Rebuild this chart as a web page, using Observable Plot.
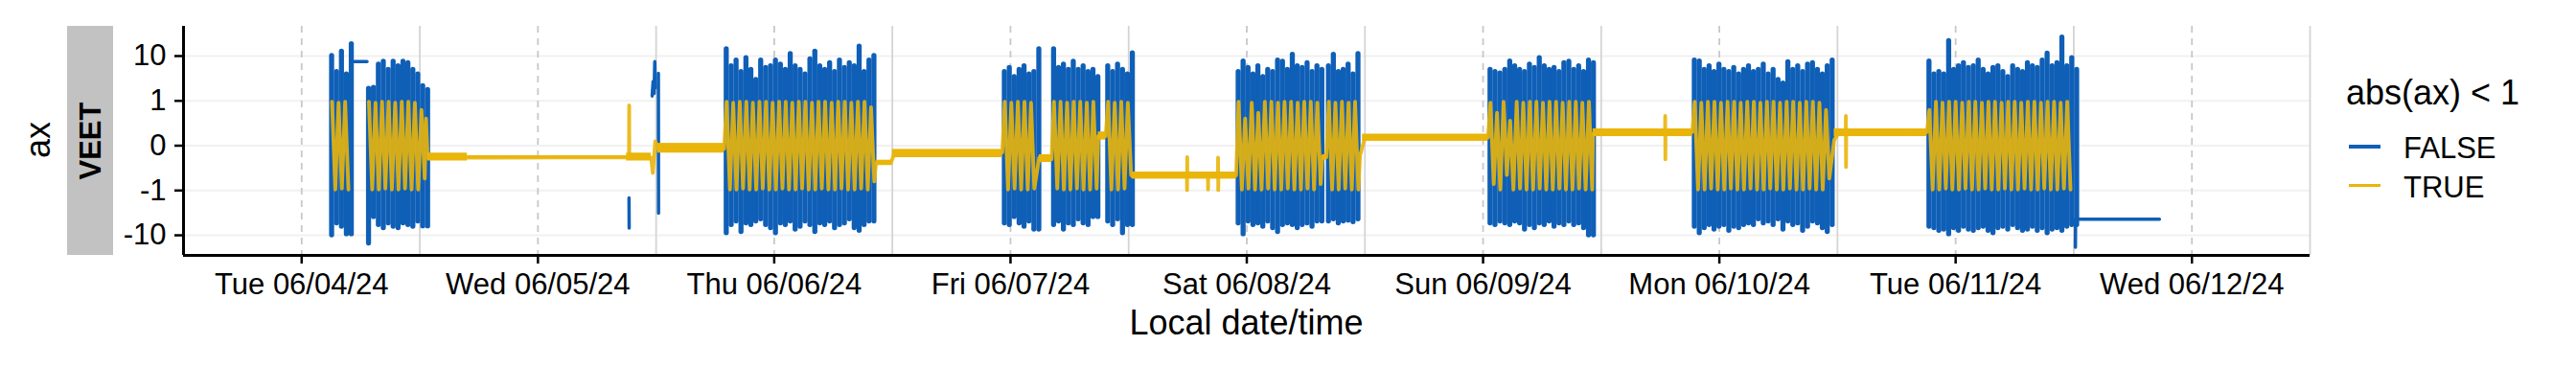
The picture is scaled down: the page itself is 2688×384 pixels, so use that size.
<!DOCTYPE html>
<html><head><meta charset="utf-8">
<script src="https://cdn.jsdelivr.net/npm/d3@7"></script>
<script src="https://cdn.jsdelivr.net/npm/@observablehq/plot@0.6"></script>
<style>
html,body{margin:0;padding:0;background:#fff;}
#wrap{position:relative;width:2688px;height:384px;overflow:hidden;font-family:"Liberation Sans",Arial,sans-serif;color:#000;}
#wrap svg{position:absolute;left:0;top:0;}
.abs{position:absolute;white-space:nowrap;line-height:1;}
</style></head><body><div id="wrap"></div>
<script>
// ---------- data ----------
const facetLabel = "VEET";
const yLabel = "ax";
const xLabel = "Local date/time";
const legendTitle = "abs(ax) < 1";
const legendLabels = ["FALSE", "TRUE"];
const colors = ["#0F5FB7", "#E9B50B"];

const xDomain = ["2024-06-03T12:00", "2024-06-12T12:00"];
const xTickDays = ["2024-06-04T00:00","2024-06-05T00:00","2024-06-06T00:00","2024-06-07T00:00","2024-06-08T00:00","2024-06-09T00:00","2024-06-10T00:00","2024-06-11T00:00","2024-06-12T00:00"];
const xNoonLines = ["2024-06-03T12:00","2024-06-04T12:00","2024-06-05T12:00","2024-06-06T12:00","2024-06-07T12:00","2024-06-08T12:00","2024-06-09T12:00","2024-06-10T12:00","2024-06-11T12:00","2024-06-12T12:00"];
const yTicks = [-10, -1, 0, 1, 10];
const yDomain = [-27, 43.3];

// active periods: start time, FALSE envelope per 30-min interval (max / min)
const blockStart = ["2024-06-04T02:55","2024-06-04T06:40","2024-06-05T19:00","2024-06-06T23:15","2024-06-07T04:15","2024-06-07T09:45","2024-06-07T23:00","2024-06-08T08:10","2024-06-09T00:35","2024-06-09T21:20","2024-06-10T21:10"];
const yellowRun = ["y0","y1","y1","y1","y1","y1","y1","y1","y1","y1","y1"];
const blueHi = [
  [10, 4.5, 12.5, 4, 18],
  [1.9, 2, 6.5, 7.5, 5, 7.5, 6, 7.5, 7, 5, 4, 2.2, 1.8],
  [14, 6, 8, 4.5, 9, 5, 3, 8, 5.5, 6, 8, 6.5, 5, 11, 6, 5, 4, 8.5, 12.5, 6, 5, 7, 4.5, 8, 5.5, 7, 6, 16, 4.5, 8, 10],
  [4.5, 5.5, 3.5, 5, 6, 4, 4.5, 14],
  [14, 5.5, 6.5, 5, 7.5, 5, 6, 4.5, 5, 3.5],
  [6, 4.5, 6.5, 5, 4, 11.5],
  [4.5, 7.6, 5.5, 4, 6, 3.5, 5, 4.5, 8, 7.5, 5, 10.7, 6, 5.5, 7, 4.5, 6, 5],
  [6, 10.7, 4.5, 5, 6.5, 4, 11],
  [5, 4.5, 4.2, 5, 7.6, 6, 5, 4.5, 6.5, 5.5, 9, 6, 5, 5.5, 4.5, 7, 7.5, 5, 6, 4.5, 8, 7],
  [8, 7.6, 5, 6, 4.5, 6.5, 5, 4.5, 5.5, 4, 5, 6, 4.5, 5, 6.5, 4, 5, 3, 2.5, 7.4, 5, 6, 4.5, 6.5, 7, 5, 4, 6, 8],
  [7.6, 4, 4.5, 4, 21, 5, 6, 7, 5.5, 6, 8, 5, 4, 5.5, 6, 4.5, 3.5, 6, 5, 4.5, 7, 6, 5.5, 8, 11.3, 6, 7, 25, 6, 9, 5]
];
const blueLo = [
  [-10, -5.5, -6.5, -9.5],
  [-15, -4, -6, -7, -5.5, -6.5, -7, -5.5, -6, -6.5, -5, -6.4],
  [-9, -6, -5, -8.5, -5.5, -6, -5, -4.5, -6, -7, -9, -5.5, -6, -5, -7.5, -6.5, -5, -6, -8.5, -5.5, -6, -5, -7, -6, -5.5, -4.5, -7, -8, -6, -5],
  [-5.5, -6, -4, -5.5, -6.5, -5, -7.5],
  [-6, -5, -7.5, -5.5, -6, -4.5, -5.5, -6, -4],
  [-5, -6, -4.5, -9, -6],
  [-5.5, -9.5, -5, -6, -5.5, -6.5, -5, -7, -8.5, -6, -5.5, -6, -7, -6, -5.5, -6.5, -5],
  [-5, -4.5, -5.5, -5, -4.8, -5.2, -4.5],
  [-5.5, -6, -5, -5.5, -6, -5, -5.5, -7.5, -6, -7, -5.5, -6, -5, -6.5, -5.5, -6, -5, -6, -5.5, -7, -10],
  [-6.5, -9, -7, -6, -7.5, -6.5, -6, -8, -6.5, -7, -6, -5.5, -6, -4.5, -5.5, -5, -6, -4.5, -7.5, -5, -6, -5.5, -8, -6.5, -5, -5.5, -7, -8.5, -6],
  [-6.5, -7, -8, -7.5, -9.5, -7, -8, -6.5, -7.5, -8, -7, -6.5, -8, -9, -7, -6.5, -7.5, -6, -7, -8, -7.5, -6.5, -8, -7, -9, -7.5, -7, -8, -6.5, -6]
];
// TRUE readings inside active periods, sampled every 20 min
const yellowHi = [
  [.95, .9, .95],
  [.95, .9, .95, .95, .9, .95, .95, .9, .6],
  [.95, .9, .95, .95, .9, .95, .95, .9, .95, .95, .9, .95, .95, .9, .95, .95, .9, .95, .95, .9, .95, .95, .7],
  [.95, .9, .95, .95, .9],
  [.95, .95, .9, .95, .95, .9, .95],
  [.95, .9, .95, .9],
  [.95, .35, .9, .5, .95, .95, .9, .95, .95, .9, .95, .95, .9],
  [.95, .9, .95, .9, .95],
  [.9, .5, .95, .3, .95, .9, .95, .95, .9, .95, .95, .9, .95, .95, .9, .95],
  [.95, .9, .95, .95, .9, .95, .95, .9, .95, .95, .9, .95, .95, .9, .95, .95, .9, .95, .95, .9, .6],
  [.6, .95, .9, .95, .95, .9, .95, .95, .9, .95, .95, .9, .95, .95, .9, .95, .95, .9, .95, .95, .9, .95]
];
const yellowLo = [
  [-.95, -.9, -.95],
  [-.95, -.95, -.9, -.95, -.95, -.9, -.95, -.95, -.5],
  [-.95, -.95, -.9, -.95, -.95, -.9, -.95, -.95, -.9, -.95, -.95, -.9, -.95, -.95, -.9, -.95, -.95, -.9, -.95, -.95, -.9, -.95, -.6],
  [-.95, -.9, -.95, -.95, -.9],
  [-.9, -.95, -.95, -.9, -.95, -.95, -.9],
  [-.95, -.95, -.9, -.4],
  [-.95, -.9, -.95, -.95, -.9, -.95, -.95, -.9, -.95, -.95, -.9, -.95, -.7],
  [-.95, -.95, -.9, -.95, -.95],
  [-.7, -.95, -.4, -.95, -.9, -.95, -.95, -.9, -.95, -.95, -.9, -.95, -.95, -.9, -.95, -.95],
  [-.95, -.95, -.9, -.95, -.95, -.9, -.95, -.95, -.9, -.95, -.95, -.9, -.95, -.95, -.9, -.95, -.95, -.9, -.95, -.95, -.5],
  [-.95, -.95, -.9, -.95, -.95, -.9, -.95, -.95, -.9, -.95, -.95, -.9, -.95, -.95, -.9, -.95, -.95, -.9, -.95, -.95, -.9, -.95]
];
// FALSE readings outside the active periods
const blueExtraTime = ["2024-06-04T05:05","2024-06-04T06:38","2024-06-05T09:15","2024-06-05T09:16","2024-06-05T11:36","2024-06-05T11:42","2024-06-05T11:48","2024-06-05T11:52","2024-06-05T11:55","2024-06-05T12:14","2024-06-05T12:15","2024-06-11T12:10","2024-06-11T12:11","2024-06-11T20:42"];
const blueExtraValue = [7.6, 7.6, -1.5, -7, 1.3, 2.8, 1.5, 7.6, 2, 4.2, -3.3, -18, -4.5, -4.5];
const blueExtraRun = ["A","A","b1","b1","b2","b2","b2","b2","b2","b3","b3","K","K","K"];
// resting periods (TRUE)
const restTime = ["2024-06-04T12:38","2024-06-04T12:48","2024-06-04T16:50","2024-06-05T09:00","2024-06-05T09:15","2024-06-05T09:16","2024-06-05T09:17","2024-06-05T11:30","2024-06-05T11:40","2024-06-05T11:55","2024-06-05T12:10","2024-06-05T18:55","2024-06-06T10:20","2024-06-06T11:50","2024-06-06T12:10","2024-06-06T23:10","2024-06-07T02:55","2024-06-07T04:10","2024-06-07T08:55","2024-06-07T09:40","2024-06-07T12:20","2024-06-07T17:55","2024-06-07T17:56","2024-06-07T17:57","2024-06-07T17:58","2024-06-07T20:03","2024-06-07T20:04","2024-06-07T20:05","2024-06-07T20:06","2024-06-07T21:04","2024-06-07T21:05","2024-06-07T21:06","2024-06-07T21:07","2024-06-07T22:55","2024-06-08T07:40","2024-06-08T08:05","2024-06-08T11:30","2024-06-08T12:00","2024-06-09T00:30","2024-06-09T11:10","2024-06-09T18:29","2024-06-09T18:30","2024-06-09T18:31","2024-06-09T18:32","2024-06-09T21:15","2024-06-10T11:40","2024-06-10T12:10","2024-06-10T12:50","2024-06-10T12:51","2024-06-10T12:52","2024-06-10T12:53","2024-06-10T21:05"];
const restValue = [0.35,-0.1,-0.1,-0.095,-0.1,0.78,-0.1,-0.1,-0.35,0.03,-0.02,-0.02,-0.17,-0.17,-0.07,-0.05,-0.1,-0.12,0.075,0.075,-0.43,-0.41,-0.98,-0.095,-0.41,-0.41,-0.95,-0.36,-0.41,-0.41,-0.1,-0.98,-0.41,-0.41,-0.095,-0.095,-0.08,0.06,0.06,0.1,0.117,0.41,-0.12,0.117,0.12,0.04,0.117,0.117,0.41,-0.23,0.117,0.12];
// noise envelope of the resting signal
const bandStart = ["2024-06-04T12:48","2024-06-04T16:50","2024-06-05T09:00","2024-06-05T12:10","2024-06-06T10:20","2024-06-06T12:00","2024-06-07T02:55","2024-06-07T08:55","2024-06-07T12:20","2024-06-08T07:40","2024-06-08T11:45","2024-06-09T11:10","2024-06-10T11:40"];
const bandEnd = ["2024-06-04T16:50","2024-06-05T09:00","2024-06-05T11:30","2024-06-05T18:55","2024-06-06T12:00","2024-06-06T23:10","2024-06-07T04:10","2024-06-07T09:40","2024-06-07T22:55","2024-06-08T08:05","2024-06-09T00:30","2024-06-09T21:15","2024-06-10T21:05"];
const bandLow = [-0.14,-0.11,-0.14,-0.055,-0.2,-0.1,-0.16,0.04,-0.52,-0.13,0.03,0.07,0.07];
const bandHigh = [-0.055,-0.08,-0.055,0.015,-0.13,-0.025,-0.07,0.12,-0.33,-0.07,0.095,0.16,0.16];

// ---------- build tables ----------
const T = d3.utcParse("%Y-%m-%dT%H:%M");
const MIN = 60000;
const bars = [], blue = [], yellow = [];
blockStart.forEach((s, b) => {
  const t0 = +T(s);
  const lo = blueLo[b];
  blueHi[b].forEach((v, k) => bars.push({t: new Date(t0 + (k * 30 + 7.5) * MIN), hi: v, lo: lo[Math.min(k, lo.length - 1)]}));
  yellowHi[b].forEach((v, k) => yellow.push({t: new Date(t0 + (k * 40 + 10) * MIN), v, run: yellowRun[b]}));
  yellowLo[b].forEach((v, k) => yellow.push({t: new Date(t0 + (k * 40 + 30) * MIN), v, run: yellowRun[b]}));
});
blueExtraTime.forEach((s, i) => blue.push({t: T(s), v: blueExtraValue[i], run: blueExtraRun[i]}));
restTime.forEach((s, i) => yellow.push({t: T(s), v: restValue[i], run: "y1"}));
blue.sort((a, b) => a.t - b.t);
yellow.sort((a, b) => a.t - b.t);
const bands = bandStart.map((s, i) => ({x1: T(s), x2: T(bandEnd[i]), y1: bandLow[i], y2: bandHigh[i]}));

const font = "'Liberation Sans', Arial, sans-serif";
const chart = Plot.plot({
  width: 2688, height: 384,
  marginLeft: 191, marginRight: 278, marginTop: 27, marginBottom: 118,
  style: {fontFamily: font, background: "transparent"},
  x: {type: "utc", domain: xDomain.map(T)},
  y: {type: "symlog", constant: 0.125, domain: yDomain},
  marks: [
    Plot.gridY(yTicks, {stroke: "#f1f1f1", strokeOpacity: 1, strokeWidth: 2}),
    Plot.gridX(xNoonLines.map(T), {stroke: "#d4d4d4", strokeOpacity: 1, strokeWidth: 1.8}),
    Plot.gridX(xTickDays.map(T), {stroke: "#c8c8c8", strokeOpacity: 1, strokeWidth: 1.8, strokeDasharray: "7,6"}),
    Plot.ruleX(bars, {x: "t", y1: "lo", y2: "hi", stroke: colors[0], strokeWidth: 5.3, strokeLinecap: "round"}),
    Plot.lineY(blue, {x: "t", y: "v", z: "run", stroke: colors[0], strokeWidth: 3.5}),
    Plot.rect(bands, {x1: "x1", x2: "x2", y1: "y1", y2: "y2", fill: colors[1]}),
    Plot.lineY(yellow, {x: "t", y: "v", z: "run", stroke: colors[1], strokeWidth: 3.9, strokeOpacity: 0.9}),
    Plot.axisX(xTickDays.map(T), {tickFormat: d3.utcFormat("%a %m/%d/%y"), fontSize: 31, tickSize: 9, tickPadding: 9, strokeWidth: 2.5, label: null, fill: "#000"}),
    Plot.axisY(yTicks, {tickFormat: d => String(d), fontSize: 31, tickSize: 9, tickPadding: 9, strokeWidth: 2.5, label: null, fill: "#000"}),
    Plot.ruleX([T(xDomain[0])], {stroke: "#000", strokeWidth: 3}),
    Plot.ruleY([yDomain[0]], {stroke: "#000", strokeWidth: 3})
  ]
});
const wrap = document.getElementById("wrap");
wrap.appendChild(chart);

function addDiv(text, css) {
  const d = document.createElement("div");
  d.className = "abs";
  d.textContent = text;
  Object.assign(d.style, css);
  wrap.appendChild(d);
  return d;
}
// facet strip
const strip = document.createElement("div");
Object.assign(strip.style, {position: "absolute", left: "70px", top: "27px", width: "48px", height: "239px", background: "#c2c2c2"});
wrap.appendChild(strip);
addDiv(facetLabel, {left: "94px", top: "147px", fontSize: "31px", fontWeight: "bold", transform: "translate(-50%,-50%) rotate(-90deg)"});
// y title
addDiv(yLabel, {left: "39.5px", top: "146px", fontSize: "36px", transform: "translate(-50%,-50%) rotate(-90deg)"});
// x title
addDiv(xLabel, {left: "1300.5px", top: "318.5px", fontSize: "36px", transform: "translateX(-50%)"});
// legend
addDiv(legendTitle, {left: "2448px", top: "79px", fontSize: "36px"});
legendLabels.forEach((lab, i) => {
  const key = document.createElement("div");
  Object.assign(key.style, {position: "absolute", left: "2451px", top: (151 + i * 40.6) + "px", width: "33px", height: "3.5px", background: colors[i]});
  wrap.appendChild(key);
  addDiv(lab, {left: "2508px", top: (138.8 + i * 41) + "px", fontSize: "31px"});
});
</script></body></html>
